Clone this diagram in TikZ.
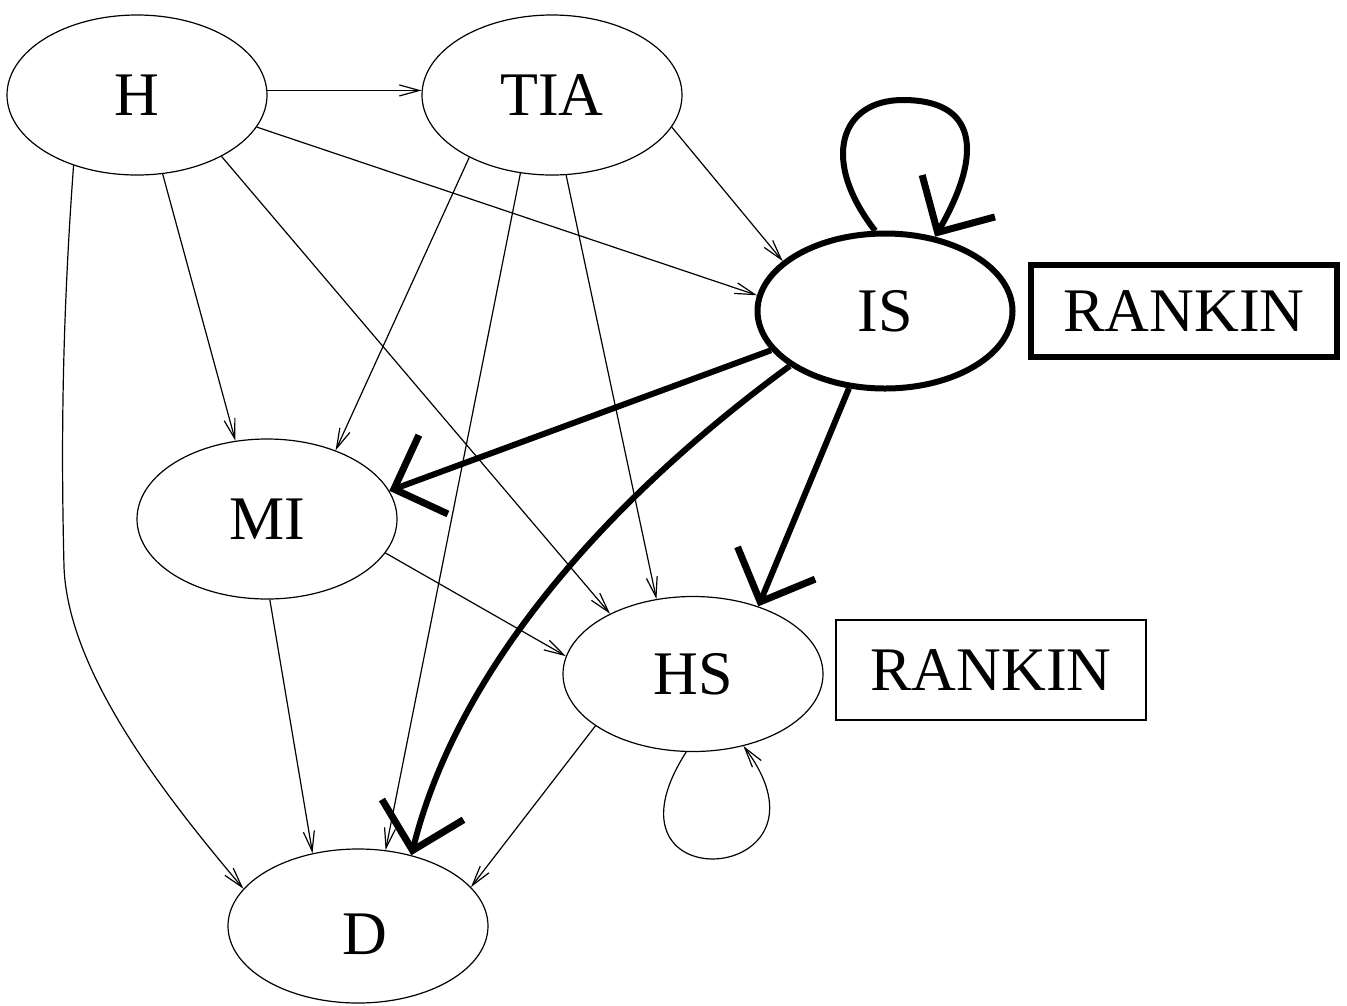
\documentclass[tikz,border=0pt]{standalone}
\usepackage{fontspec}
\setmainfont{Liberation Serif}
\usetikzlibrary{shapes.geometric,arrows.meta}
\begin{document}
\begin{tikzpicture}[x=1pt,y=-1pt,
 el/.style={ellipse,draw,line width=1.2pt,minimum width=260pt,minimum height=160pt,inner sep=0pt,font=\fontsize{62}{62}\selectfont},
 lbl/.style={inner sep=0pt,font=\fontsize{62}{62}\selectfont},
 thinarr/.style={line width=1.2pt,-{Straight Barb[length=20pt,width=11pt]}},
 thickarr/.style={line width=6pt,-{Straight Barb[length=42pt,width=84pt,line width=7pt]}},
 rbox/.style={draw,line width=1.2pt,minimum width=310pt,minimum height=100pt,inner sep=0pt,font=\fontsize{62}{62}\selectfont}]
\useasboundingbox (0,0) rectangle (1347,1005);
\node[el] (H) at (137,95) {H};
\node[el] (TIA) at (552,95) {TIA};
\node[el,line width=6pt,minimum width=255pt,minimum height=155pt] (IS) at (885,311) {IS};
\node[el] (MI) at (267,519) {MI};
\node[el,minimum height=155pt] (HS) at (693,674) {HS};
\node[el,minimum height=154pt] (D) at (358,926) {};
\node[lbl] (Dl) at (365,934) {D};
\node[rbox,line width=6pt,minimum width=306pt,minimum height=92pt] (R1) at (1184,311) {RANKIN};
\node[rbox] (R2) at (991,670) {RANKIN};
\draw[thinarr] (H.2) -- (TIA.178);
\draw[thinarr] (H.-15) -- (IS.173);
\draw[thinarr] (H.-72) -- (MI.112);
\draw[thinarr] (H.-36) -- (HS.144);
\draw[thinarr] (H.-132) .. controls (60,350) and (62,480) .. (64,567) .. controls (68,670) and (160,790) .. (D.162);
\draw[thinarr] (TIA.-15) -- (IS.154);
\draw[thinarr] (TIA.-143) -- (MI.45);
\draw[thinarr] (TIA.-112) -- (D.70);
\draw[thinarr] (TIA.-80) -- (HS.116);
\draw[thinarr] (MI.-16) -- (HS.172);
\draw[thinarr] (MI.-88) -- (D.122);
\draw[thinarr] (HS.-152) -- (D.19);
\draw[thinarr] (HS.-95) .. controls (588,905) and (848,885) .. (HS.-55);
\draw[thickarr] (IS.-161) -- (MI.13);
\draw[thickarr] (IS.-115) -- (HS.46);
\draw[thickarr] (IS.-150) .. controls (620,490) and (460,660) .. (D.53);
\draw[thickarr] (IS.97) .. controls (820,160) and (840,100) .. (903,100) .. controls (975,100) and (985,150) .. (IS.56);
\end{tikzpicture}
\end{document}
